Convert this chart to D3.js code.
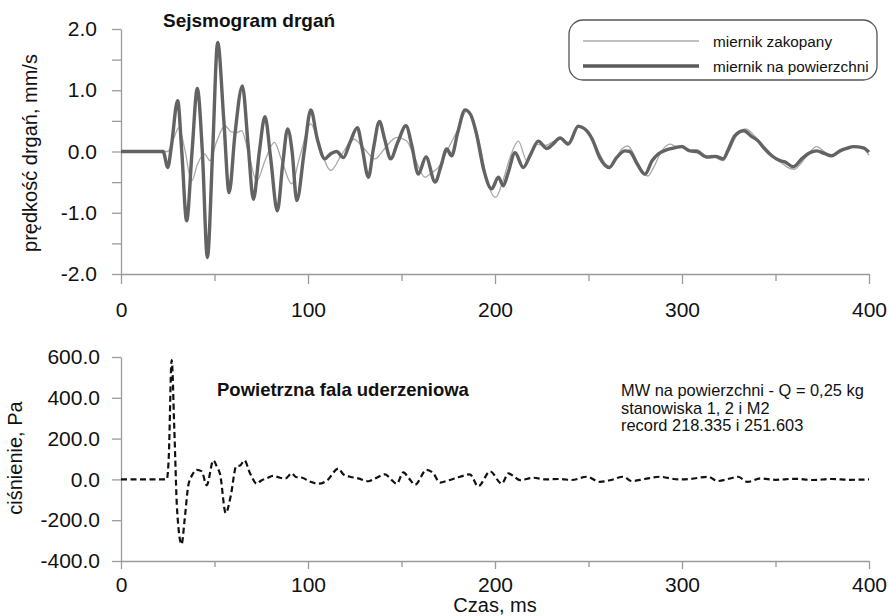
<!DOCTYPE html>
<html><head><meta charset="utf-8">
<script src="https://cdn.jsdelivr.net/npm/d3@7"></script>
<style>
body{margin:0;background:#fff}
svg{display:block}
text{font-family:"Liberation Sans",Arial,Helvetica,sans-serif}
</style>
</head><body>
<svg id="c" width="889" height="616"></svg>
<script>
// ---------- data ----------
const timeTicks = [0, 100, 200, 300, 400];
const timeMinor = [50, 150, 250, 350];
const velTicks = [-2, -1, 0, 1, 2];
const velMinor = [-1.5, -0.5, 0.5, 1.5];
const pressTicks = [-400, -200, 0, 200, 400, 600];
const seriesNames = ["miernik zakopany", "miernik na powierzchni"];

// miernik na powierzchni (surface gauge), time ms
const surfT = [0,21,22.5,25,27,30.3,32.5,35.1,38,40.8,43.5,46.2,49,51.7,55,57.8,61,64.9,68,70.8,74,77,80,83.6,86.5,89.1,91.5,94,98,101.5,105,109,112,115.3,118.9,122.5,126.4,129,132.3,135,138.2,141,144.2,148,152.4,155.5,159,163.1,168,171,174.2,176.8,180,184,187,190,194,198.2,201.8,204.4,207,210.7,215.1,219,223.2,227.6,231,234.8,239.2,244.5,249,252,256,261.1,265,269.5,272,276,280.2,284,287.3,292,296,299.8,304.3,308,313.2,318,322,325,328.3,333.2,337,340.8,344,348,352.4,355,359.6,364,368.4,372,376,380,384.5,388,391.6,397,400];
const surfV = [0,0,0,-0.26,0.1,0.83,0,-1.13,0,1.03,0,-1.73,0,1.78,0.5,-0.67,0.3,1.07,0.1,-0.78,0,0.57,-0.1,-0.97,-0.2,0.37,0,-0.8,0,0.68,0.2,-0.12,-0.04,0,-0.1,0.15,0.39,0.05,-0.42,0.05,0.49,0.2,-0.12,0.15,0.42,0.1,-0.37,-0.09,-0.5,-0.25,0.04,-0.07,0.3,0.68,0.6,0.3,-0.3,-0.61,-0.42,-0.56,-0.35,-0.02,-0.26,-0.05,0.17,0.05,0.12,0.22,0.12,0.41,0.34,0.2,-0.1,-0.26,-0.1,0.01,0,-0.2,-0.37,-0.15,-0.04,0.03,0.06,0.08,0.01,0,-0.09,-0.08,-0.12,0.05,0.26,0.34,0.25,0.17,0.05,-0.07,-0.15,-0.17,-0.25,-0.12,-0.02,0.01,-0.03,-0.07,0.01,0.05,0.08,0.06,-0.01];

// miernik zakopany (buried gauge)
const burT = [0,22,25,28,31,34,37.8,41,44.6,47.6,51,55.6,59,61.9,64.5,68,72.6,77,82,86,91.3,95.5,101.5,106,112.2,118,124.4,130,135.8,141,147.4,152.8,157,162.6,166,169.7,175,180,184.9,188,192,196,200.4,204,208,212.5,217,222,227,232,235,239,244.5,249,253,257,261,265,268,271.1,275,278,281.8,285,289,293.6,297,300,304,308,313,318,322,325,329,334,338,341,345,349,353,356,360,364,368,372,376,380,385,390,394,397,400];
const burV = [0,0,0,0.2,0.39,0.05,-0.48,-0.2,-0.04,-0.15,0.15,0.42,0.32,0.31,0.34,0,-0.48,-0.15,0.15,-0.15,-0.53,-0.1,0.45,0.1,-0.31,-0.05,0.2,0.05,-0.12,0.05,0.23,0.17,-0.1,-0.42,-0.35,-0.26,0.05,0.35,0.66,0.55,0.1,-0.5,-0.75,-0.5,-0.1,0.17,-0.15,0.12,0.1,0.18,0.22,0.15,0.43,0.33,0.15,-0.1,-0.28,-0.1,0.05,0.09,-0.1,-0.3,-0.4,-0.25,0,0.12,0.08,0.1,0.02,0.03,-0.08,-0.1,-0.15,0,0.25,0.37,0.28,0.18,0.05,-0.08,-0.18,-0.25,-0.29,-0.18,-0.02,0.08,0,-0.07,0.02,0.06,0.08,0.05,-0.06];

// powietrzna fala uderzeniowa (air blast), Pa
const airT = [0,24.5,25.5,27.1,28.5,30,32.4,34,36,38,40.5,43.2,45.8,49.4,51.2,53,56,58.7,61.6,63.7,66,69,72.6,75,77.9,81.5,85,88,91.3,93.5,97,100.5,105.9,110.3,116.2,118.9,122.5,126.9,132.3,136,141.2,144.8,147.4,151,154,157.2,163.4,167,170.6,175,181.3,186.6,191,197.4,203.6,207.2,210,213.4,220.5,227,234.8,241,249,256,262,268.6,273,280,288,298,305,314,319,325,330,335,342,350,360,370,380,390,400];
const airP = [0,0,100,585,250,-150,-318,-200,-29,20,47,39,-29,93,64,25,-165,-80,64,68,93,30,-21,-5,5,18,8,5,30,12,8,-9,-21,-4,53,25,13,5,-9,5,25,-4,-21,34,5,-26,47,30,-16,-5,13,25,-34,39,-21,30,15,-4,8,0,2,-3,13,-12,-3,13,-8,2,13,0,3,13,-8,3,13,-12,5,-2,3,-3,2,-2,0];

// ---------- layout ----------
const svg = d3.select("#c");
svg.append("rect").attr("width",889).attr("height",616).attr("fill","#fff");

const x = d3.scaleLinear().domain([0,400]).range([121,869]);
const yV = d3.scaleLinear().domain([-2,2]).range([274,29]);
const yP = d3.scaleLinear().domain([-400,600]).range([561,357]);

const axisCol = "#9a9a9a";
function styleAxis(g, fs){
  g.selectAll(".domain").attr("stroke",axisCol).attr("stroke-width",1.3);
  g.selectAll(".tick line").attr("stroke",axisCol).attr("stroke-width",1.3);
  g.selectAll(".tick text").attr("font-size",fs).attr("fill","#111").attr("font-family",'"Liberation Sans",Arial,sans-serif');
}

// top chart axes
let g = svg.append("g").attr("transform","translate(121,0)")
  .call(d3.axisLeft(yV).tickValues(velMinor).tickSize(9).tickSizeOuter(0).tickFormat(""));
g.select(".domain").remove(); styleAxis(g,21);
g = svg.append("g").attr("transform","translate(121,0)")
  .call(d3.axisLeft(yV).tickValues(velTicks).tickSize(9).tickSizeOuter(0).tickPadding(15).tickFormat(d=>d.toFixed(1)));
styleAxis(g,21);
g = svg.append("g").attr("transform","translate(0,274)")
  .call(d3.axisBottom(x).tickValues(timeMinor).tickSize(7).tickSizeOuter(0).tickFormat(""));
g.select(".domain").remove(); styleAxis(g,21);
g = svg.append("g").attr("transform","translate(0,274)")
  .call(d3.axisBottom(x).tickValues(timeTicks).tickSize(10).tickSizeOuter(0).tickPadding(18).tickFormat(d=>String(d)));
styleAxis(g,21);

// bottom chart axes
g = svg.append("g").attr("transform","translate(121,0)")
  .call(d3.axisLeft(yP).tickValues(pressTicks).tickSize(9).tickSizeOuter(0).tickPadding(12).tickFormat(d=>d.toFixed(1)));
styleAxis(g,21);
g = svg.append("g").attr("transform","translate(0,561)")
  .call(d3.axisBottom(x).tickValues(timeMinor).tickSize(6).tickSizeOuter(0).tickFormat(""));
g.select(".domain").remove(); styleAxis(g,21);
g = svg.append("g").attr("transform","translate(0,561)")
  .call(d3.axisBottom(x).tickValues(timeTicks).tickSize(8).tickSizeOuter(0).tickPadding(8).tickFormat(d=>String(d)));
styleAxis(g,21);

// lines
const lineV = d3.line().x(d=>x(d[0])).y(d=>yV(d[1])).curve(d3.curveMonotoneX);
const lineP = d3.line().x(d=>x(d[0])).y(d=>yP(d[1])).curve(d3.curveMonotoneX);

svg.append("path").datum(d3.zip(burT,burV)).attr("d",lineV)
  .attr("fill","none").attr("stroke","#a8a8a8").attr("stroke-width",1.3);
svg.append("path").datum(d3.zip(surfT,surfV)).attr("d",lineV)
  .attr("fill","none").attr("stroke","#636363").attr("stroke-width",3.4).attr("stroke-linejoin","round");
svg.append("path").datum(d3.zip(airT,airP)).attr("d",lineP)
  .attr("fill","none").attr("stroke","#111").attr("stroke-width",2.2).attr("stroke-dasharray","6,3.5");

// titles
svg.append("text").attr("x",163).attr("y",27).attr("font-size",19).attr("font-weight","bold").attr("fill","#111").text("Sejsmogram drgań");
svg.append("text").attr("x",217).attr("y",396).attr("font-size",18.5).attr("font-weight","bold").attr("fill","#111").text("Powietrzna fala uderzeniowa");

// annotation
const notes = ["MW na powierzchni - Q = 0,25 kg","stanowiska 1, 2 i M2","record 218.335 i 251.603"];
svg.append("g").selectAll("text").data(notes).join("text")
  .attr("x",621).attr("y",(d,i)=>396+i*17.5).attr("font-size",16.4).attr("fill","#111").text(d=>d);

// axis titles
svg.append("text").attr("transform","translate(37,153) rotate(-90)").attr("text-anchor","middle")
  .attr("font-size",20).attr("fill","#111").text("prędkość drgań, mm/s");
svg.append("text").attr("transform","translate(22,458) rotate(-90)").attr("text-anchor","middle")
  .attr("font-size",20).attr("fill","#111").text("ciśnienie, Pa");
svg.append("text").attr("x",x(200)).attr("y",612).attr("text-anchor","middle")
  .attr("font-size",20).attr("fill","#111").text("Czas, ms");

// legend
const lg = svg.append("g");
lg.append("rect").attr("x",569).attr("y",20).attr("width",308).attr("height",60).attr("rx",14)
  .attr("fill","#fff").attr("stroke","#555").attr("stroke-width",1.3);
const legStyles = [{c:"#c0c0c0",w:2},{c:"#5a5a5a",w:3.4}];
seriesNames.forEach((n,i)=>{
  const yy = 41 + i*25;
  lg.append("line").attr("x1",583).attr("x2",699).attr("y1",yy).attr("y2",yy)
    .attr("stroke",legStyles[i].c).attr("stroke-width",legStyles[i].w);
  lg.append("text").attr("x",713).attr("y",yy+5.5).attr("font-size",15.3).attr("fill","#111").text(n);
});
</script>
</body></html>
